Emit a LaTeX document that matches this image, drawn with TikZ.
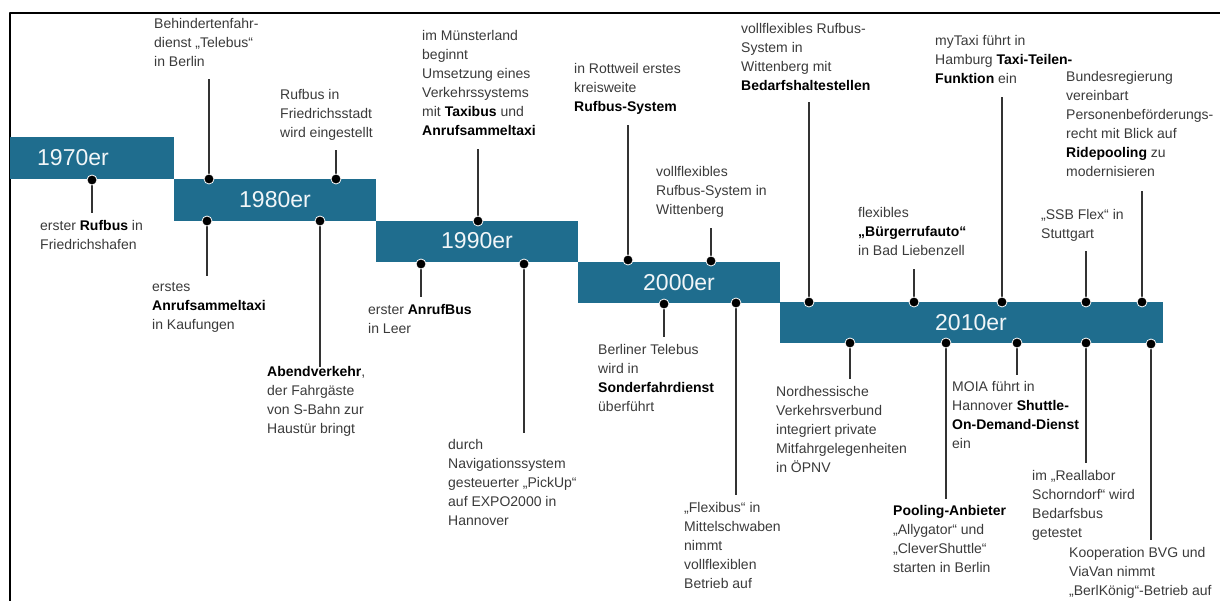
\documentclass[tikz,border=0pt]{standalone}
\usepackage{fontspec}
\setmainfont{Liberation Sans}
\usepackage{xcolor}
\usepackage{tikz}

\definecolor{eraBlue}{RGB}{31,109,142}
\definecolor{evGray}{RGB}{58,58,58}
\newcommand{\kw}[1]{\textbf{\color{black}#1}}

\begin{document}
\begin{tikzpicture}[x=1pt,y=-1pt,line join=round,
  era/.style={fill=eraBlue},
  yearlbl/.style={text=white!94!eraBlue,font=\fontsize{23}{26}\selectfont,inner sep=0pt},
  evtext/.style={anchor=north west,align=left,inner sep=0pt,text=evGray,
    font=\fontsize{14}{19}\selectfont,execute at begin node=\strut},
  stem/.style={line width=1.4pt,draw=black!80},
  evdot/.style={fill=black,draw=white,line width=0.8pt}]
  \useasboundingbox (0,0) rectangle (1220,601);
  % frame
  \draw[line width=2pt] (10,601) -- (10,13) -- (1220,13);
  % decade bars
  \fill[era] (10,137) rectangle (174,179);
  \fill[era] (174,179) rectangle (376,221);
  \fill[era] (376,221) rectangle (578,262);
  \fill[era] (578,262) rectangle (780,303);
  \fill[era] (780,302) rectangle (1163,343);
  \node[yearlbl] (y70) at (73,158) {1970er};
  \node[yearlbl] (y80) at (275,200) {1980er};
  \node[yearlbl] (y90) at (477,241) {1990er};
  \node[yearlbl] (y00) at (679,283) {2000er};
  \node[yearlbl] (y10) at (971,323) {2010er};
  % dots on the bar edges
  \coordinate (d70a) at (92,180);
  \coordinate (d80a) at (209,179);
  \coordinate (d80b) at (336,179);
  \coordinate (d80c) at (207,221);
  \coordinate (d80d) at (320,221);
  \coordinate (d90a) at (478,221);
  \coordinate (d90b) at (421,264);
  \coordinate (d90c) at (524,264);
  \coordinate (d00a) at (628,260);
  \coordinate (d00b) at (711,261);
  \coordinate (d00c) at (664,304);
  \coordinate (d00d) at (736,303);
  \coordinate (d10a) at (809,302);
  \coordinate (d10b) at (914,302);
  \coordinate (d10c) at (1002,302);
  \coordinate (d10d) at (1086,302);
  \coordinate (d10e) at (1142,302);
  \coordinate (d10f) at (850,343);
  \coordinate (d10g) at (946,343);
  \coordinate (d10h) at (1017,343);
  \coordinate (d10i) at (1086,343);
  \coordinate (d10j) at (1151,344);
  % stem ends
  \coordinate (e70a) at (92,213);
  \coordinate (e80a) at (209,79);
  \coordinate (e80b) at (336,150);
  \coordinate (e80c) at (207,276);
  \coordinate (e80d) at (320,367);
  \coordinate (e90a) at (478,149);
  \coordinate (e90b) at (421,297);
  \coordinate (e90c) at (524,433);
  \coordinate (e00a) at (628,125);
  \coordinate (e00b) at (711,228);
  \coordinate (e00c) at (664,337);
  \coordinate (e00d) at (736,495);
  \coordinate (e10a) at (809,102);
  \coordinate (e10b) at (914,269);
  \coordinate (e10c) at (1002,97);
  \coordinate (e10d) at (1086,251);
  \coordinate (e10e) at (1142,191);
  \coordinate (e10f) at (850,379);
  \coordinate (e10g) at (946,499);
  \coordinate (e10h) at (1017,375);
  \coordinate (e10i) at (1086,463);
  \coordinate (e10j) at (1151,540);
  \draw[stem] (d70a) -- (e70a);
  \draw[stem] (d80a) -- (e80a);
  \draw[stem] (d80b) -- (e80b);
  \draw[stem] (d80c) -- (e80c);
  \draw[stem] (d80d) -- (e80d);
  \draw[stem] (d90a) -- (e90a);
  \draw[stem] (d90b) -- (e90b);
  \draw[stem] (d90c) -- (e90c);
  \draw[stem] (d00a) -- (e00a);
  \draw[stem] (d00b) -- (e00b);
  \draw[stem] (d00c) -- (e00c);
  \draw[stem] (d00d) -- (e00d);
  \draw[stem] (d10a) -- (e10a);
  \draw[stem] (d10b) -- (e10b);
  \draw[stem] (d10c) -- (e10c);
  \draw[stem] (d10d) -- (e10d);
  \draw[stem] (d10e) -- (e10e);
  \draw[stem] (d10f) -- (e10f);
  \draw[stem] (d10g) -- (e10g);
  \draw[stem] (d10h) -- (e10h);
  \draw[stem] (d10i) -- (e10i);
  \draw[stem] (d10j) -- (e10j);
  \filldraw[evdot] (d70a) circle (5pt);
  \filldraw[evdot] (d80a) circle (5pt);
  \filldraw[evdot] (d80b) circle (5pt);
  \filldraw[evdot] (d80c) circle (5pt);
  \filldraw[evdot] (d80d) circle (5pt);
  \filldraw[evdot] (d90a) circle (5pt);
  \filldraw[evdot] (d90b) circle (5pt);
  \filldraw[evdot] (d90c) circle (5pt);
  \filldraw[evdot] (d00a) circle (5pt);
  \filldraw[evdot] (d00b) circle (5pt);
  \filldraw[evdot] (d00c) circle (5pt);
  \filldraw[evdot] (d00d) circle (5pt);
  \filldraw[evdot] (d10a) circle (5pt);
  \filldraw[evdot] (d10b) circle (5pt);
  \filldraw[evdot] (d10c) circle (5pt);
  \filldraw[evdot] (d10d) circle (5pt);
  \filldraw[evdot] (d10e) circle (5pt);
  \filldraw[evdot] (d10f) circle (5pt);
  \filldraw[evdot] (d10g) circle (5pt);
  \filldraw[evdot] (d10h) circle (5pt);
  \filldraw[evdot] (d10i) circle (5pt);
  \filldraw[evdot] (d10j) circle (5pt);
  % event texts
  \node[evtext] (t70a) at (40,220) {erster \kw{Rufbus} in\\Friedrichshafen};
  \node[evtext] (t80a) at (154,18) {Behindertenfahr-\\dienst „Telebus“\\in Berlin};
  \node[evtext] (t80b) at (280,89) {Rufbus in\\Friedrichsstadt\\wird eingestellt};
  \node[evtext] (t80c) at (152,282) {erstes\\\kw{Anrufsammeltaxi}\\in Kaufungen};
  \node[evtext] (t80d) at (267,366) {\kw{Abendverkehr},\\der Fahrgäste\\von S-Bahn zur\\Haustür bringt};
  \node[evtext] (t90a) at (422,30) {im Münsterland\\beginnt\\Umsetzung eines\\Verkehrssystems\\mit \kw{Taxibus} und\\\kw{Anrufsammeltaxi}};
  \node[evtext] (t90b) at (368,304) {erster \kw{AnrufBus}\\in Leer};
  \node[evtext] (t90c) at (448,439) {durch\\Navigationssystem\\gesteuerter „PickUp“\\auf EXPO2000 in\\Hannover};
  \node[evtext] (t00a) at (574,63) {in Rottweil erstes\\kreisweite\\\kw{Rufbus-System}};
  \node[evtext] (t00b) at (656,166) {vollflexibles\\Rufbus-System in\\Wittenberg};
  \node[evtext] (t00c) at (598,344) {Berliner Telebus\\wird in\\\kw{Sonderfahrdienst}\\überführt};
  \node[evtext] (t00d) at (684,502) {„Flexibus“ in\\Mittelschwaben\\nimmt\\vollflexiblen\\Betrieb auf};
  \node[evtext] (t10a) at (741,23) {vollflexibles Rufbus-\\System in\\Wittenberg mit\\\kw{Bedarfshaltestellen}};
  \node[evtext] (t10b) at (858,207) {flexibles\\\kw{„Bürgerrufauto“}\\in Bad Liebenzell};
  \node[evtext] (t10c) at (935,35) {myTaxi führt in\\Hamburg \kw{Taxi-Teilen-}\\\kw{Funktion} ein};
  \node[evtext] (t10d) at (1041,209) {„SSB Flex“ in\\Stuttgart};
  \node[evtext] (t10e) at (1066,71) {Bundesregierung\\vereinbart\\Personenbeförderungs-\\recht mit Blick auf\\\kw{Ridepooling} zu\\modernisieren};
  \node[evtext] (t10f) at (776,386) {Nordhessische\\Verkehrsverbund\\integriert private\\Mitfahrgelegenheiten\\in ÖPNV};
  \node[evtext] (t10g) at (893,505) {\kw{Pooling-Anbieter}\\„Allygator“ und\\„CleverShuttle“\\starten in Berlin};
  \node[evtext] (t10h) at (952,381) {MOIA führt in\\Hannover \kw{Shuttle-}\\\kw{On-Demand-Dienst}\\ein};
  \node[evtext] (t10i) at (1032,470) {im „Reallabor\\Schorndorf“ wird\\Bedarfsbus\\getestet};
  \node[evtext] (t10j) at (1069,547) {Kooperation BVG und\\ViaVan nimmt\\„BerlKönig“-Betrieb auf};
\end{tikzpicture}
\end{document}
